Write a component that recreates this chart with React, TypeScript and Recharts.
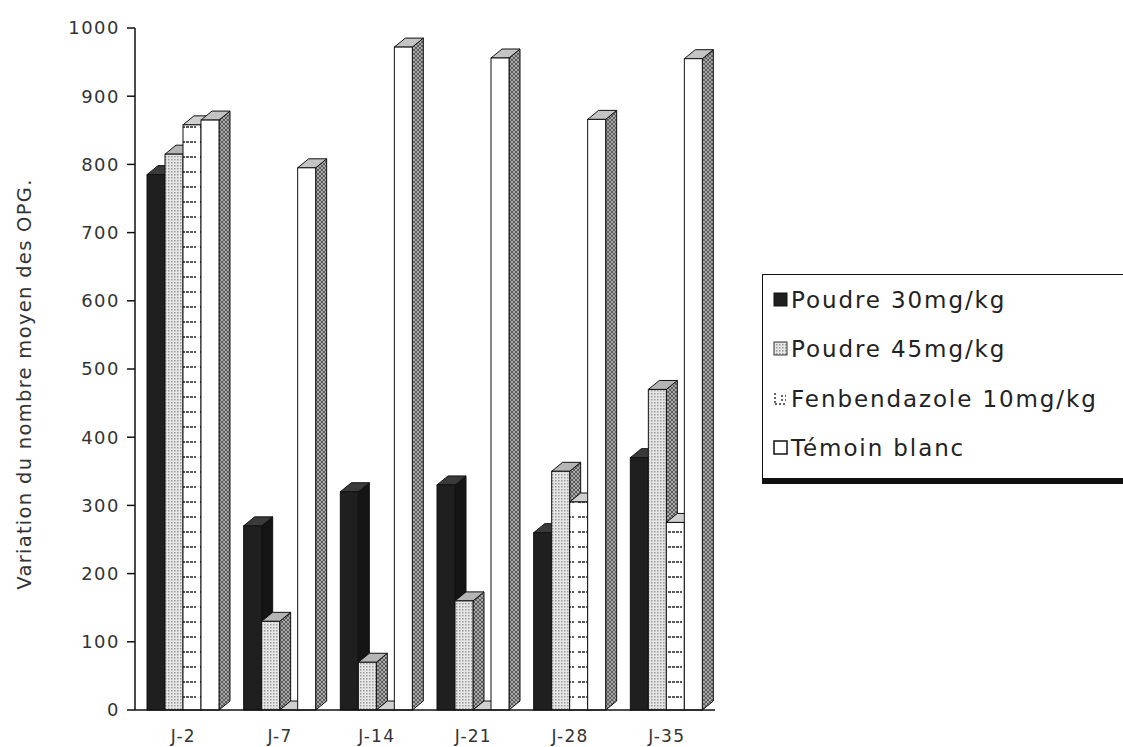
import { BarChart, Bar, XAxis, YAxis } from 'recharts';

const categories = ['J-2', 'J-7', 'J-14', 'J-21', 'J-28', 'J-35'];
const poudre30 = [785, 270, 320, 330, 260, 370];
const poudre45 = [815, 130, 70, 160, 350, 470];
const fenbendazole = [858, 0, 0, 0, 305, 275];
const temoin = [865, 795, 972, 956, 866, 955];
const yTicks = [0, 100, 200, 300, 400, 500, 600, 700, 800, 900, 1000];

const seriesNames = ['Poudre 30mg/kg', 'Poudre 45mg/kg', 'Fenbendazole 10mg/kg', 'Témoin blanc'];

const data = categories.map((name, i) => ({
  name,
  p30: poudre30[i],
  p45: poudre45[i],
  fen: fenbendazole[i],
  tem: temoin[i],
}));

const FONT = '"DejaVu Sans", sans-serif';

type Faces = { front: string; side: string; top: string };

// fake 3D column: front face + right side + top
const make3D = (faces: Faces) => (props: any) => {
  const { x, y, width, height } = props;
  if (x == null || y == null) return null;
  const d = 11;
  const h = 9;
  const w = width;
  const hh = Math.max(height, 0);
  return (
    <g>
      <polygon
        points={`${x + w},${y} ${x + w + d},${y - h} ${x + w + d},${y + hh - h} ${x + w},${y + hh}`}
        fill={faces.side}
        stroke="#111"
        strokeWidth={1}
      />
      <polygon
        points={`${x},${y} ${x + d},${y - h} ${x + w + d},${y - h} ${x + w},${y}`}
        fill={faces.top}
        stroke="#111"
        strokeWidth={1}
      />
      {hh > 0 && <rect x={x} y={y} width={w} height={hh} fill={faces.front} stroke="#111" strokeWidth={1} />}
    </g>
  );
};

const shapeP30 = make3D({ front: '#1f1f1f', side: '#151515', top: '#3a3a3a' });
const shapeP45 = make3D({ front: 'url(#dots)', side: 'url(#hatch)', top: '#b5b5b5' });
const shapeFen = make3D({ front: 'url(#dashes)', side: '#e8e8e8', top: '#d0d0d0' });
const shapeTem = make3D({ front: '#ffffff', side: 'url(#hatch)', top: '#c4c4c4' });

const swatch = (i: number) => {
  if (i === 0) return <rect x={1} y={1} width={13} height={13} fill="#1f1f1f" stroke="#111" />;
  if (i === 1) return <rect x={1} y={1} width={13} height={13} fill="url(#dots)" stroke="#333" />;
  if (i === 2)
    return (
      <g stroke="#333" strokeWidth={1.5} strokeDasharray="2 2" fill="none">
        <line x1={2} y1={2} x2={2} y2={13} />
        <line x1={2} y1={13} x2={13} y2={13} />
        <line x1={8} y1={5} x2={13} y2={5} />
        <line x1={8} y1={9} x2={13} y2={9} />
      </g>
    );
  return <rect x={1} y={1} width={13} height={13} fill="#fff" stroke="#111" strokeWidth={1.5} />;
};

function ChartLegend() {
  return (
    <div
      style={{
        position: 'absolute',
        left: 762,
        top: 274,
        border: '1.5px solid #111',
        borderBottom: '6px solid #111',
        background: '#fff',
        width: 380,
        height: 210,
        boxSizing: 'border-box',
        paddingLeft: 10,
      }}
    >
      {seriesNames.map((n, i) => (
        <div key={n} style={{ display: 'flex', alignItems: 'center', height: 49.5 }}>
          <svg width={16} height={16} style={{ marginRight: 2 }}>
            {swatch(i)}
          </svg>
          <span style={{ fontFamily: FONT, fontSize: 23, letterSpacing: 1.9, color: '#222' }}>{n}</span>
        </div>
      ))}
    </div>
  );
}

export default function App() {
  return (
    <div style={{ position: 'absolute', left: 0, top: 0, width: 1123, height: 747, background: '#fff' }}>
      <BarChart
        width={1123}
        height={747}
        data={data}
        margin={{ top: 28, right: 408, bottom: 0, left: 60 }}
        barSize={18}
        barGap={0}
      >
        <defs>
          <pattern id="dots" width="3" height="3" patternUnits="userSpaceOnUse">
            <rect width="3" height="3" fill="#e6e6e6" />
            <rect width="1.5" height="1.5" fill="#9a9a9a" />
          </pattern>
          <pattern id="hatch" width="4" height="4" patternUnits="userSpaceOnUse">
            <rect width="4" height="4" fill="#a8a8a8" />
            <path d="M0,0 L4,4 M4,0 L0,4" stroke="#555" strokeWidth="0.9" />
          </pattern>
          <pattern id="dashes" width="18" height="15" patternUnits="userSpaceOnUse">
            <rect width="18" height="15" fill="#fff" />
            <line x1="2" y1="7" x2="16" y2="7" stroke="#222" strokeWidth="1.6" strokeDasharray="3 1" />
          </pattern>
        </defs>
        <XAxis
          dataKey="name"
          height={37}
          tickLine={false}
          axisLine={{ stroke: '#111', strokeWidth: 1.5 }}
          tickMargin={14}
          tick={{ fontFamily: FONT, fontSize: 17, fill: '#333', letterSpacing: 1.2 }}
        />
        <YAxis
          width={75}
          domain={[0, 1000]}
          ticks={yTicks}
          interval={0}
          tickSize={8}
          tickMargin={7}
          axisLine={{ stroke: '#111', strokeWidth: 1.5 }}
          tickLine={{ stroke: '#111', strokeWidth: 1.5 }}
          tick={{ fontFamily: FONT, fontSize: 18, fill: '#333', letterSpacing: 1.5 }}
          label={{
            content: () => (
              <text
                x={24}
                y={384}
                transform="rotate(-90 24 384)"
                textAnchor="middle"
                dominantBaseline="central"
                fontFamily={FONT}
                fontSize={19.5}
                letterSpacing={1.3}
                fill="#333"
              >
                Variation du nombre moyen des OPG.
              </text>
            ),
          }}
        />
        <Bar dataKey="p30" name={seriesNames[0]} shape={shapeP30} isAnimationActive={false} />
        <Bar dataKey="p45" name={seriesNames[1]} shape={shapeP45} isAnimationActive={false} />
        <Bar dataKey="fen" name={seriesNames[2]} shape={shapeFen} isAnimationActive={false} />
        <Bar dataKey="tem" name={seriesNames[3]} shape={shapeTem} isAnimationActive={false} />
      </BarChart>
      <ChartLegend />
    </div>
  );
}
